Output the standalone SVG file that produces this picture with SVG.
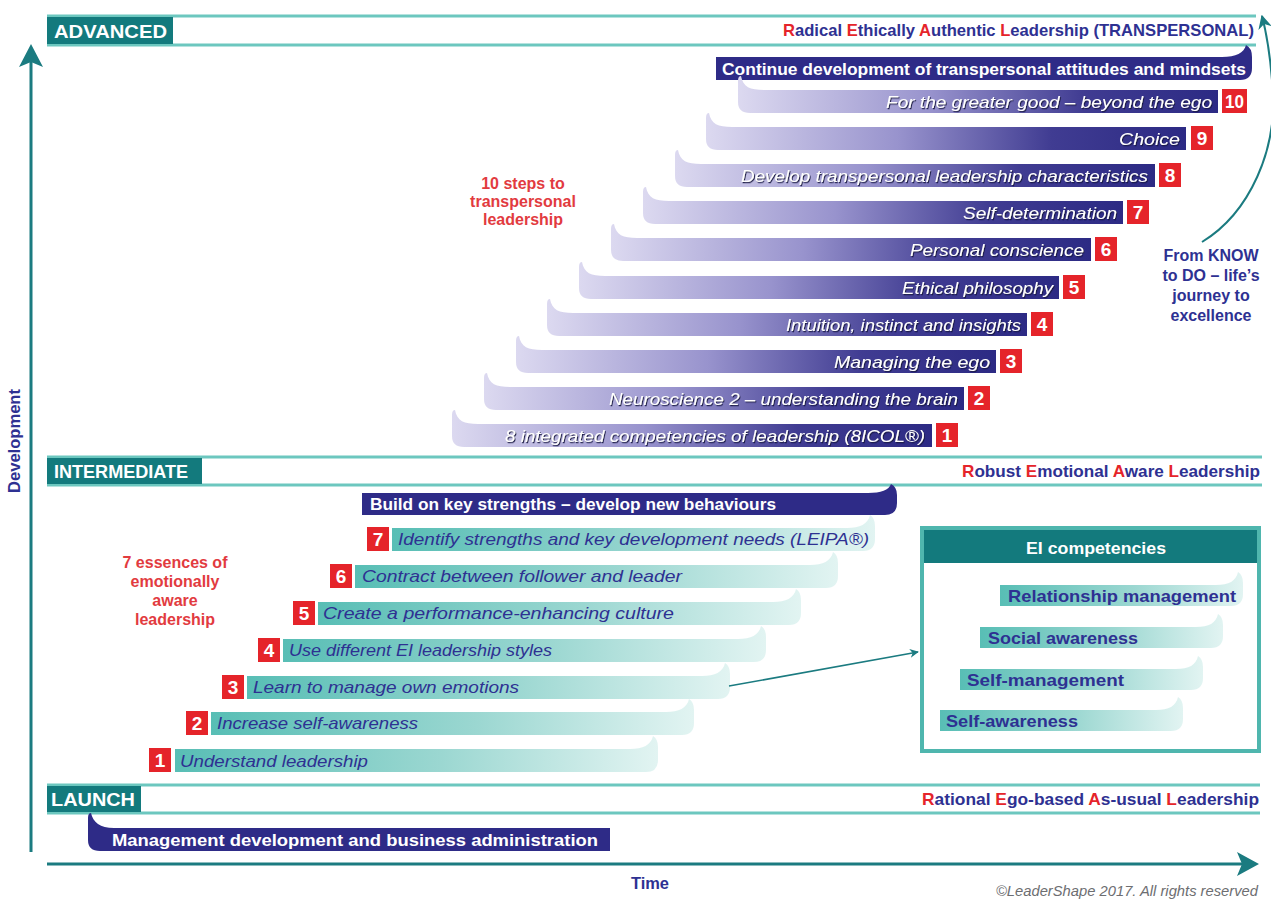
<svg xmlns="http://www.w3.org/2000/svg" xmlns:xlink="http://www.w3.org/1999/xlink" width="1271" height="899" viewBox="0 0 1271 899">
  <defs>
    <linearGradient id="gPurple" x1="0" y1="0" x2="1" y2="0">
      <stop offset="0" stop-color="#dcd9f0"/>
      <stop offset="0.4" stop-color="#9893cd"/>
      <stop offset="0.72" stop-color="#403c92"/>
      <stop offset="1" stop-color="#2c2a84"/>
    </linearGradient>
    <linearGradient id="gTeal" x1="0" y1="0" x2="1" y2="0">
      <stop offset="0" stop-color="#58beb5"/>
      <stop offset="0.55" stop-color="#9bd7d1"/>
      <stop offset="1" stop-color="#e2f4f2"/>
    </linearGradient>
    <filter id="shadow" x="-5%" y="-30%" width="110%" height="160%">
      <feDropShadow dx="1" dy="1.2" stdDeviation="0.6" flood-color="#15133f" flood-opacity="0.9"/>
    </filter>
    <!-- step bar with a tail rising on the left (advanced steps) -->
    <path id="pbar" d="M3,-14 C5,-3 12,0 26,0 H480 V23 H12 Q0,23 0,12 V-9 Q0,-14 3,-14 Z"/>
    <!-- step bar with a hook rising on the right (intermediate steps) -->
    <path id="tbar" d="M0,0 H455 C468,0 476,-4 478,-13 Q483,-10 483,-2 V11 Q483,23 471,23 H0 Z"/>
    <path id="ebar" d="M0,0 H216 C229,0 236,-4 238,-13 Q243,-10 243,-2 V9 Q243,21 231,21 H0 Z"/>
    <marker id="arrowSmall" viewBox="0 0 10 10" refX="9" refY="5" markerWidth="9" markerHeight="9" markerUnits="userSpaceOnUse" orient="auto">
      <path d="M0,0 L10,5 L0,10 L3,5 Z" fill="#1b7b80"/>
    </marker>
    <marker id="arrowArc" viewBox="0 0 10 10" refX="9" refY="5" markerWidth="14" markerHeight="14" markerUnits="userSpaceOnUse" orient="auto">
      <path d="M0,0 L10,5 L0,10 L3,5 Z" fill="#1b7b80"/>
    </marker>
  </defs>
  <style>
    text { font-family: "Liberation Sans", Arial, sans-serif; }
    .band { stroke: #6cc7bf; stroke-width: 3; fill: none; }
    .tag { fill: #137a7d; }
    .tagtxt { fill: #ffffff; font-weight: bold; font-size: 19px; }
    .level { fill: #2e3192; font-weight: bold; font-size: 17px; text-anchor: end; }
    .lr { fill: #e5242a; }
    .axis { stroke: #1b7b80; stroke-width: 3; fill: none; }
    .pb { fill: url(#gPurple); }
    .tb { fill: url(#gTeal); }
    .nav { fill: #2e2b87; }
    .ptxt { fill: #ffffff; font-style: italic; font-size: 17px; text-anchor: end; filter: url(#shadow); }
    .ttxt { fill: #2e3192; font-style: italic; font-size: 17px; }
    .wtxt { fill: #ffffff; font-weight: bold; font-size: 17px; }
    .num { fill: #e5242a; }
    .numtxt { fill: #ffffff; font-weight: bold; font-size: 19px; text-anchor: middle; }
    .ei { fill: #2e3192; font-weight: bold; font-size: 17px; }
    .note { fill: #e23b3f; font-weight: bold; font-size: 16px; text-anchor: middle; }
    .blue { fill: #2e3192; font-weight: bold; font-size: 16px; text-anchor: middle; }
  </style>

  <rect width="1271" height="899" fill="#ffffff"/>

  <!-- axes -->
  <g id="axes">
    <line class="axis" x1="31" y1="852" x2="31" y2="62"/>
    <path d="M31,44 L43,67 L31,62 L19,67 Z" fill="#1b7b80"/>
    <line class="axis" x1="47" y1="864" x2="1242" y2="864"/>
    <path d="M1259,864 L1237,852 L1242,864 L1237,876 Z" fill="#1b7b80"/>
    <text x="20" y="441" transform="rotate(-90 20 441)" text-anchor="middle" fill="#2e3192" font-weight="bold" font-size="16" textLength="104" lengthAdjust="spacingAndGlyphs">Development</text>
    <text x="650" y="889" text-anchor="middle" fill="#2e3192" font-weight="bold" font-size="16" textLength="38" lengthAdjust="spacingAndGlyphs">Time</text>
    <text x="1258" y="896" text-anchor="end" fill="#6d6e71" font-style="italic" font-size="14" textLength="262" lengthAdjust="spacingAndGlyphs">©LeaderShape 2017. All rights reserved</text>
  </g>

  <!-- level bands -->
  <g id="band-advanced">
    <line class="band" x1="47" y1="16" x2="1256" y2="16"/>
    <line class="band" x1="47" y1="45" x2="1256" y2="45"/>
    <rect class="tag" x="47" y="17" width="126" height="27"/>
    <text class="tagtxt" x="54" y="38" textLength="113" lengthAdjust="spacingAndGlyphs">ADVANCED</text>
    <text class="level" x="1254" y="36" textLength="471" lengthAdjust="spacingAndGlyphs"><tspan class="lr">R</tspan>adical <tspan class="lr">E</tspan>thically <tspan class="lr">A</tspan>uthentic <tspan class="lr">L</tspan>eadership (TRANSPERSONAL)</text>
  </g>
  <g id="band-intermediate">
    <line class="band" x1="47" y1="457" x2="1262" y2="457"/>
    <line class="band" x1="47" y1="485" x2="1262" y2="485"/>
    <rect class="tag" x="47" y="458" width="155" height="26"/>
    <text class="tagtxt" x="54" y="478" textLength="134" lengthAdjust="spacingAndGlyphs">INTERMEDIATE</text>
    <text class="level" x="1260" y="477" textLength="298" lengthAdjust="spacingAndGlyphs"><tspan class="lr">R</tspan>obust <tspan class="lr">E</tspan>motional <tspan class="lr">A</tspan>ware <tspan class="lr">L</tspan>eadership</text>
  </g>
  <g id="band-launch">
    <line class="band" x1="47" y1="785" x2="1260" y2="785"/>
    <line class="band" x1="47" y1="813" x2="1260" y2="813"/>
    <rect class="tag" x="47" y="786" width="94" height="26"/>
    <text class="tagtxt" x="51" y="806" textLength="84" lengthAdjust="spacingAndGlyphs">LAUNCH</text>
    <text class="level" x="1259" y="805" textLength="337" lengthAdjust="spacingAndGlyphs"><tspan class="lr">R</tspan>ational <tspan class="lr">E</tspan>go-based <tspan class="lr">A</tspan>s-usual <tspan class="lr">L</tspan>eadership</text>
  </g>

  <!-- advanced: ten steps -->
  <g id="adv-top">
    <path class="nav" d="M716,57 H1222 C1236,57 1244,53 1246,45 Q1252,48 1252,57 V68 Q1252,80 1240,80 H716 Z"/>
    <text class="wtxt" x="722" y="75" textLength="524" lengthAdjust="spacingAndGlyphs">Continue development of transpersonal attitudes and mindsets</text>
  </g>
  <g id="step-a10">
    <use xlink:href="#pbar" class="pb" x="738" y="90"/>
    <text class="ptxt" x="1212" y="108" textLength="326" lengthAdjust="spacingAndGlyphs">For the greater good – beyond the ego</text>
    <rect class="num" x="1222" y="89" width="25" height="24"/>
    <text class="numtxt" x="1234.5" y="108" textLength="19" lengthAdjust="spacingAndGlyphs">10</text>
  </g>
  <g id="step-a9">
    <use xlink:href="#pbar" class="pb" x="706" y="127"/>
    <text class="ptxt" x="1180" y="145" textLength="61" lengthAdjust="spacingAndGlyphs">Choice</text>
    <rect class="num" x="1191" y="126" width="22" height="24"/>
    <text class="numtxt" x="1202" y="145">9</text>
  </g>
  <g id="step-a8">
    <use xlink:href="#pbar" class="pb" x="675" y="164"/>
    <text class="ptxt" x="1148" y="182" textLength="407" lengthAdjust="spacingAndGlyphs">Develop transpersonal leadership characteristics</text>
    <rect class="num" x="1159" y="163" width="22" height="24"/>
    <text class="numtxt" x="1170" y="182">8</text>
  </g>
  <g id="step-a7">
    <use xlink:href="#pbar" class="pb" x="643" y="201"/>
    <text class="ptxt" x="1117" y="219" textLength="154" lengthAdjust="spacingAndGlyphs">Self-determination</text>
    <rect class="num" x="1127" y="200" width="22" height="24"/>
    <text class="numtxt" x="1138" y="219">7</text>
  </g>
  <g id="step-a6">
    <use xlink:href="#pbar" class="pb" x="611" y="238"/>
    <text class="ptxt" x="1084" y="256" textLength="174" lengthAdjust="spacingAndGlyphs">Personal conscience</text>
    <rect class="num" x="1095" y="237" width="22" height="24"/>
    <text class="numtxt" x="1106" y="256">6</text>
  </g>
  <g id="step-a5">
    <use xlink:href="#pbar" class="pb" x="579" y="276"/>
    <text class="ptxt" x="1053" y="294" textLength="151" lengthAdjust="spacingAndGlyphs">Ethical philosophy</text>
    <rect class="num" x="1063" y="275" width="22" height="24"/>
    <text class="numtxt" x="1074" y="294">5</text>
  </g>
  <g id="step-a4">
    <use xlink:href="#pbar" class="pb" x="547" y="313"/>
    <text class="ptxt" x="1021" y="331" textLength="235" lengthAdjust="spacingAndGlyphs">Intuition, instinct and insights</text>
    <rect class="num" x="1031" y="312" width="22" height="24"/>
    <text class="numtxt" x="1042" y="331">4</text>
  </g>
  <g id="step-a3">
    <use xlink:href="#pbar" class="pb" x="516" y="350"/>
    <text class="ptxt" x="990" y="368" textLength="156" lengthAdjust="spacingAndGlyphs">Managing the ego</text>
    <rect class="num" x="1000" y="349" width="22" height="24"/>
    <text class="numtxt" x="1011" y="368">3</text>
  </g>
  <g id="step-a2">
    <use xlink:href="#pbar" class="pb" x="484" y="387"/>
    <text class="ptxt" x="958" y="405" textLength="349" lengthAdjust="spacingAndGlyphs">Neuroscience 2 – understanding the brain</text>
    <rect class="num" x="968" y="386" width="22" height="24"/>
    <text class="numtxt" x="979" y="405">2</text>
  </g>
  <g id="step-a1">
    <use xlink:href="#pbar" class="pb" x="452" y="424"/>
    <text class="ptxt" x="925" y="442" textLength="420" lengthAdjust="spacingAndGlyphs">8 integrated competencies of leadership (8ICOL®)</text>
    <rect class="num" x="936" y="423" width="22" height="24"/>
    <text class="numtxt" x="947" y="442">1</text>
  </g>
  <g id="note-10steps">
    <text class="note" x="523" y="189">10 steps to</text>
    <text class="note" x="523" y="207">transpersonal</text>
    <text class="note" x="523" y="225">leadership</text>
  </g>
  <g id="note-know-do">
    <text class="blue" x="1211" y="261">From KNOW</text>
    <text class="blue" x="1211" y="281">to DO – life’s</text>
    <text class="blue" x="1211" y="301">journey to</text>
    <text class="blue" x="1211" y="321">excellence</text>
  </g>

  <!-- intermediate: seven essences -->
  <g id="int-top">
    <path class="nav" d="M362,493 H868 C881,493 889,490 891,484 Q897,487 897,495 V503 Q897,515 885,515 H362 Z"/>
    <text class="wtxt" x="370" y="510" textLength="406" lengthAdjust="spacingAndGlyphs">Build on key strengths – develop new behaviours</text>
  </g>
  <g id="step-i7">
    <use xlink:href="#tbar" class="tb" x="392" y="528"/>
    <rect class="num" x="367" y="527" width="22" height="24"/>
    <text class="numtxt" x="378" y="546">7</text>
    <text class="ttxt" x="398" y="545" textLength="471" lengthAdjust="spacingAndGlyphs">Identify strengths and key development needs (LEIPA®)</text>
  </g>
  <g id="step-i6">
    <use xlink:href="#tbar" class="tb" x="355" y="565"/>
    <rect class="num" x="330" y="564" width="22" height="24"/>
    <text class="numtxt" x="341" y="583">6</text>
    <text class="ttxt" x="362" y="582" textLength="320" lengthAdjust="spacingAndGlyphs">Contract between follower and leader</text>
  </g>
  <g id="step-i5">
    <use xlink:href="#tbar" class="tb" x="318" y="602"/>
    <rect class="num" x="293" y="601" width="22" height="24"/>
    <text class="numtxt" x="304" y="620">5</text>
    <text class="ttxt" x="323" y="619" textLength="351" lengthAdjust="spacingAndGlyphs">Create a performance-enhancing culture</text>
  </g>
  <g id="step-i4">
    <use xlink:href="#tbar" class="tb" x="283" y="639"/>
    <rect class="num" x="258" y="638" width="22" height="24"/>
    <text class="numtxt" x="269" y="657">4</text>
    <text class="ttxt" x="289" y="656" textLength="263" lengthAdjust="spacingAndGlyphs">Use different EI leadership styles</text>
  </g>
  <g id="step-i3">
    <use xlink:href="#tbar" class="tb" x="247" y="676"/>
    <rect class="num" x="222" y="675" width="22" height="24"/>
    <text class="numtxt" x="233" y="694">3</text>
    <text class="ttxt" x="253" y="693" textLength="266" lengthAdjust="spacingAndGlyphs">Learn to manage own emotions</text>
  </g>
  <g id="step-i2">
    <use xlink:href="#tbar" class="tb" x="211" y="712"/>
    <rect class="num" x="186" y="711" width="22" height="24"/>
    <text class="numtxt" x="197" y="730">2</text>
    <text class="ttxt" x="217" y="729" textLength="201" lengthAdjust="spacingAndGlyphs">Increase self-awareness</text>
  </g>
  <g id="step-i1">
    <use xlink:href="#tbar" class="tb" x="175" y="749"/>
    <rect class="num" x="149" y="748" width="22" height="24"/>
    <text class="numtxt" x="160" y="767">1</text>
    <text class="ttxt" x="180" y="767" textLength="188" lengthAdjust="spacingAndGlyphs">Understand leadership</text>
  </g>
  <g id="note-7essences">
    <text class="note" x="175" y="568">7 essences of</text>
    <text class="note" x="175" y="587">emotionally</text>
    <text class="note" x="175" y="606">aware</text>
    <text class="note" x="175" y="625">leadership</text>
  </g>

  <!-- EI competencies panel -->
  <g id="ei-competencies">
    <rect x="922" y="528" width="337" height="223" fill="#ffffff" stroke="#4fb6ae" stroke-width="4"/>
    <rect x="924" y="530" width="333" height="33" fill="#137a7d"/>
    <text x="1096" y="554" text-anchor="middle" fill="#ffffff" font-weight="bold" font-size="17" textLength="140" lengthAdjust="spacingAndGlyphs">EI competencies</text>
    <use xlink:href="#ebar" class="tb" x="1000" y="585"/>
    <text class="ei" x="1008" y="602" textLength="228" lengthAdjust="spacingAndGlyphs">Relationship management</text>
    <use xlink:href="#ebar" class="tb" x="980" y="627"/>
    <text class="ei" x="988" y="644" textLength="150" lengthAdjust="spacingAndGlyphs">Social awareness</text>
    <use xlink:href="#ebar" class="tb" x="960" y="669"/>
    <text class="ei" x="967" y="686" textLength="157" lengthAdjust="spacingAndGlyphs">Self-management</text>
    <use xlink:href="#ebar" class="tb" x="940" y="710"/>
    <text class="ei" x="946" y="727" textLength="132" lengthAdjust="spacingAndGlyphs">Self-awareness</text>
  </g>

  <!-- launch -->
  <g id="launch-bar">
    <path class="nav" d="M91,813 C93,822 100,828 114,828 H610 V851 H100 Q88,851 88,840 V818 Q88,813 91,813 Z"/>
    <text class="wtxt" x="112" y="846" textLength="486" lengthAdjust="spacingAndGlyphs">Management development and business administration</text>
  </g>

  <!-- connectors -->
  <g id="connectors">
    <line x1="729" y1="686" x2="918" y2="652" stroke="#1b7b80" stroke-width="1.6" marker-end="url(#arrowSmall)"/>
    <path d="M1202,242 C1248,214 1280,150 1272,80 C1270,55 1267,35 1262,16" fill="none" stroke="#1b7b80" stroke-width="2" marker-end="url(#arrowArc)"/>
  </g>
</svg>
